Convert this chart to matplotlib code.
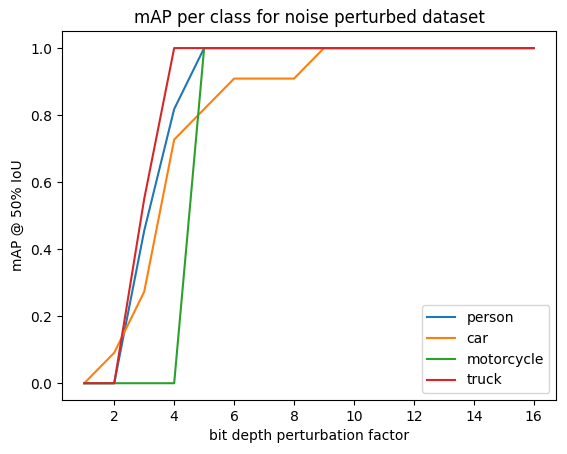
import matplotlib.pyplot as plt

# bit depth factors and per-class mAP values
factors = list(range(1, 17))
person = [0, 0, 0.455, 0.818, 1, 1, 1, 1, 1, 1, 1, 1, 1, 1, 1, 1]
car = [0, 0.091, 0.273, 0.727, 0.818, 0.909, 0.909, 0.909, 1, 1, 1, 1, 1, 1, 1, 1]
motorcycle = [0, 0, 0, 0, 1, 1, 1, 1, 1, 1, 1, 1, 1, 1, 1, 1]
truck = [0, 0, 0.55, 1, 1, 1, 1, 1, 1, 1, 1, 1, 1, 1, 1, 1]

fig, ax = plt.subplots(figsize=(5.67, 4.54), dpi=100)
fig.subplots_adjust(left=0.109, right=0.981, top=0.931, bottom=0.119)

ax.plot(factors, person, label='person')
ax.plot(factors, car, label='car')
ax.plot(factors, motorcycle, label='motorcycle')
ax.plot(factors, truck, label='truck')

ax.set_xticks(range(2, 17, 2))
ax.set_xlabel('bit depth perturbation factor')
ax.set_ylabel('mAP @ 50% IoU')
ax.set_title('mAP per class for noise perturbed dataset')
ax.legend(loc='lower right')

plt.savefig('out.png')
